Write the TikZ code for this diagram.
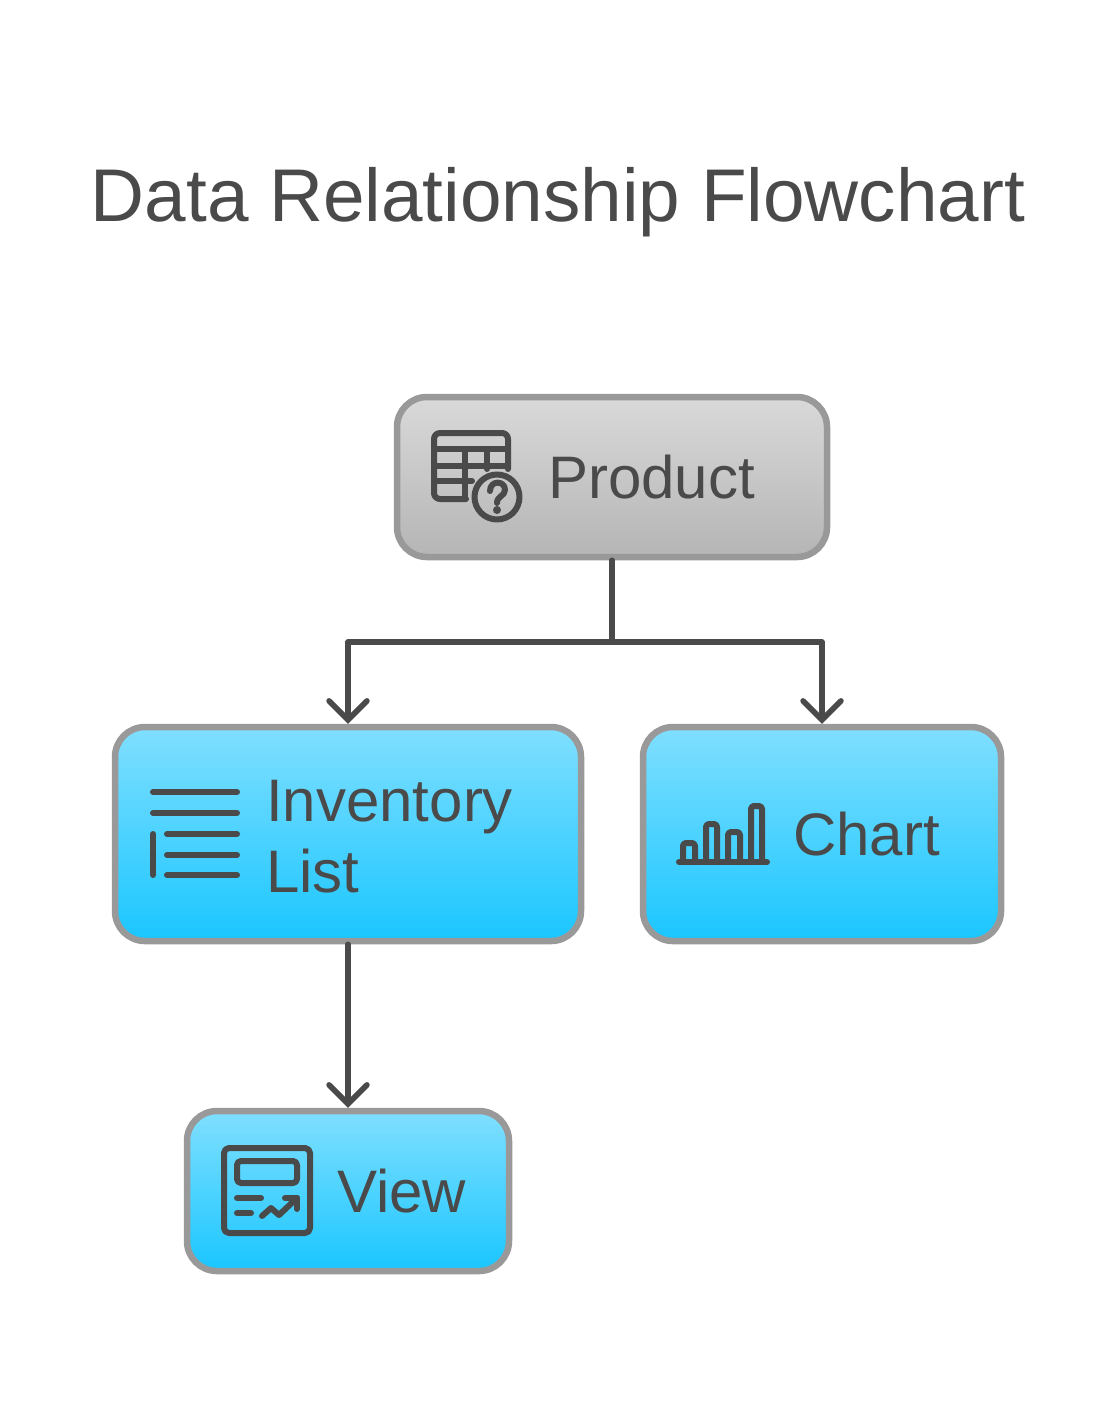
\documentclass[tikz,border=0pt]{standalone}
\usepackage{fontspec}
\setmainfont{Liberation Sans}
\usetikzlibrary{arrows.meta,positioning}
\definecolor{inkgray}{HTML}{4A4A4A}
\definecolor{edgegray}{HTML}{999999}
\definecolor{skytop}{HTML}{80DFFF}
\definecolor{skybottom}{HTML}{1AC6FF}
\definecolor{graytop}{HTML}{D9D9D9}
\definecolor{graybottom}{HTML}{B5B5B5}
\tikzstyle{box}=[draw=edgegray,line width=6.5pt,rounded corners=30pt,inner sep=0pt]
\tikzstyle{graybox}=[box,top color=graytop,bottom color=graybottom]
\tikzstyle{bluebox}=[box,top color=skytop,bottom color=skybottom]
\tikzstyle{label}=[anchor=base west,inner sep=0pt,text=inkgray,font=\fontsize{60}{71}\selectfont,align=left]
\tikzstyle{post}=[->,>={Straight Barb[length=19pt,width=38pt,line cap=round]},draw=inkgray,line width=5.5pt,line join=round,line cap=round]
\tikzstyle{icon}=[draw=inkgray,line width=6pt,line cap=round,line join=round]
\begin{document}
\begin{tikzpicture}[x=1pt,y=1pt]
    \useasboundingbox (0,0) rectangle (1116,-1417);
    \node (title) [anchor=base,inner sep=0pt,text=inkgray,font=\fontsize{74.7}{75}\selectfont] at (558,-221) {Data Relationship Flowchart};

    \node (product) [graybox,minimum width=430pt,minimum height=160pt] at (612,-477) {};
    \node (inventory) [bluebox,minimum width=466pt,minimum height=214pt] at (348,-834) {};
    \node (chart) [bluebox,minimum width=358pt,minimum height=214pt] [right of=inventory,node distance=474pt] {};
    \node (view) [bluebox,minimum width=322pt,minimum height=160pt] [below of=inventory,node distance=357pt] {};

    \node (productlabel) [label] at (548,-498) {Product};
    \node (inventorylabel) [label] at (266,-892) {Inventory\\List};
    \node (chartlabel) [label] at (793,-855) {Chart};
    \node (viewlabel) [label] at (337,-1212) {View};

    \coordinate (split) at (612,-642);
    \draw[post,-] (product.south) -- (split);
    \draw[post] (split) -| (inventory.north);
    \draw[post] (split) -| (chart.north);
    \draw[post] (inventory.south) -- (view.north);

    % table with question mark
    \draw[icon,rounded corners=6pt] (466,-499) -- (434,-499) -- (434,-433) -- (508,-433) -- (508,-469);
    \draw[icon] (434,-449) -- (508,-449);
    \draw[icon] (434,-466) -- (508,-466);
    \draw[icon] (434,-481) -- (472,-481);
    \draw[icon] (465,-449) -- (465,-499);
    \draw[icon] (487,-449) -- (487,-469);
    \draw[icon] (497,-497) circle (22.5);
    \draw[icon] (490,-491) .. controls (490,-480) and (505,-480) .. (505,-490) .. controls (505,-496) and (497,-496) .. (497,-503);
    \fill[inkgray] (497,-510) circle (4);

    % list
    \draw[icon] (153,-792) -- (237,-792);
    \draw[icon] (153,-813) -- (237,-813);
    \draw[icon] (167,-834) -- (237,-834);
    \draw[icon] (167,-855) -- (237,-855);
    \draw[icon] (167,-875) -- (237,-875);
    \draw[icon] (153,-834) -- (153,-875);

    % bars
    \draw[icon] (679,-862) -- (767,-862);
    \draw[icon,rounded corners=3pt] (683,-862) -- (683,-843) -- (695,-843) -- (695,-862);
    \draw[icon,rounded corners=3pt] (706,-862) -- (706,-824) -- (717,-824) -- (717,-862);
    \draw[icon,rounded corners=3pt] (728,-862) -- (728,-832) -- (740,-832) -- (740,-862);
    \draw[icon,rounded corners=3pt] (751,-862) -- (751,-806) -- (762,-806) -- (762,-862);

    % report
    \draw[icon,rounded corners=5pt] (224,-1148) rectangle (310,-1233);
    \draw[icon,rounded corners=4pt] (237,-1161) rectangle (297,-1183);
    \draw[icon] (237,-1198) -- (261,-1198);
    \draw[icon] (237,-1213) -- (251,-1213);
    \draw[icon] (262,-1216) -- (271,-1208) -- (279,-1215) -- (297,-1198);
    \draw[icon] (285,-1198) -- (297,-1198) -- (297,-1209);
\end{tikzpicture}
\end{document}
